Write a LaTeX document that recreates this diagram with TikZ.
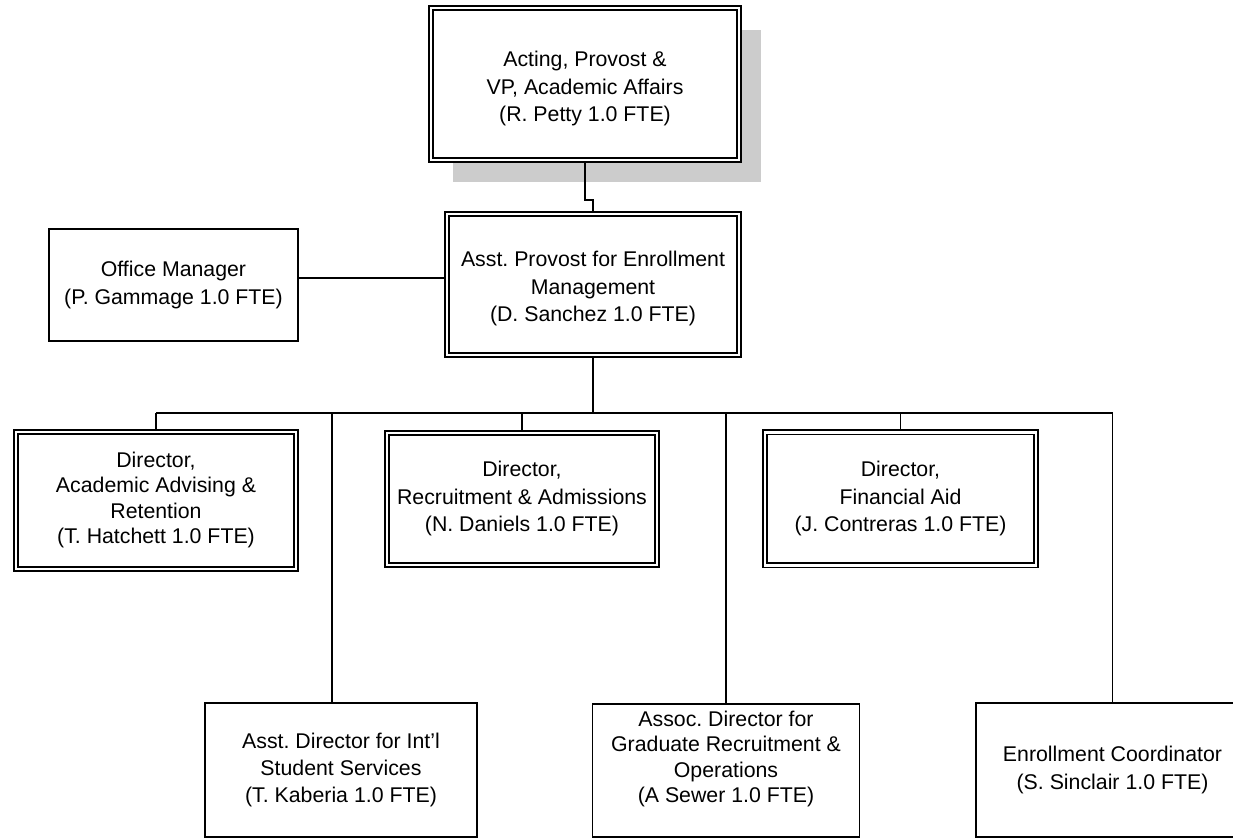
\documentclass[tikz,border=0pt]{standalone}
\usepackage{xcolor}
\usepackage{fontspec}
\setmainfont{Liberation Sans}
\usepackage{tikz}
\usetikzlibrary{shadows}
\definecolor{shadowgray}{RGB}{204, 204, 204}

\tikzset{
    chartbox/.style={draw=black, fill=white, line width=0.65pt, inner sep=0pt,
        font=\fontsize{10.65pt}{13.75pt}\selectfont\frenchspacing},
    dblbox/.style={chartbox, double, double distance=1.2pt, line width=0.9pt, outer sep=1.5pt},
    tightbox/.style={font=\fontsize{10.65pt}{12.75pt}\selectfont\frenchspacing},
    link/.style={draw=black, line width=0.65pt},
}

\begin{document}
\begin{tikzpicture}[x=0.5pt, y=-0.5pt]
    \clip (0,0) rectangle (1233,839);

    % top of the chart
    \node[dblbox, drop shadow={shadow xshift=11pt, shadow yshift=-11.25pt, fill=shadowgray, opacity=1},
        minimum width=154pt, minimum height=76pt] (top) at (585,84) {
        \begin{tabular}{@{}c@{}}
            \rule{0pt}{14.6pt}Acting, Provost \&\\
            VP, Academic Affairs\\
            (R. Petty 1.0 FTE)
        \end{tabular}
    };
    \node[dblbox, minimum width=146pt, minimum height=70.5pt] (mid) at (593,284.5) {
        \begin{tabular}{@{}c@{}}
            \rule{0pt}{14.1pt}Asst. Provost for Enrollment\\
            Management\\
            (D. Sanchez 1.0 FTE)
        \end{tabular}
    };
    \node[chartbox, minimum width=124.5pt, minimum height=56pt] (om) at (173.5,285) {
        \begin{tabular}{@{}c@{}}
            Office Manager\\
            (P. Gammage 1.0 FTE)
        \end{tabular}
    };

    % directors
    \node[dblbox, tightbox, minimum width=140pt, minimum height=68.5pt] (aa) at (156,500.5) {
        \begin{tabular}{@{}c@{}}
            Director,\\
            Academic Advising \&\\
            Retention\\
            (T. Hatchett 1.0 FTE)
        \end{tabular}
    };
    \node[dblbox, minimum width=135pt, minimum height=66pt] (ra) at (522,499) {
        \begin{tabular}{@{}c@{}}
            Director,\\
            Recruitment \& Admissions\\
            (N. Daniels 1.0 FTE)
        \end{tabular}
    };
    \node[dblbox, minimum width=135.5pt, minimum height=66.5pt] (fa) at (900.5,499) {
        \begin{tabular}{@{}c@{}}
            Director,\\
            Financial Aid\\
            (J. Contreras 1.0 FTE)
        \end{tabular}
    };

    % bottom row
    \node[chartbox, minimum width=136pt, minimum height=67pt] (intl) at (341,770) {
        \begin{tabular}{@{}c@{}}
            Asst. Director for Int'l\\
            Student Services\\
            (T. Kaberia 1.0 FTE)
        \end{tabular}
    };
    \node[chartbox, tightbox, minimum width=133.5pt, minimum height=66.5pt] (ad) at (726,770.5) {
        \begin{tabular}{@{}c@{}}
            Assoc. Director for\\
            Graduate Recruitment \&\\
            Operations\\
            (A Sewer 1.0 FTE)\\[11pt]
        \end{tabular}
    };
    \node[chartbox, minimum width=136.5pt, minimum height=67pt] (ec) at (1112.5,770) {
        \begin{tabular}{@{}c@{}}
            Enrollment Coordinator\\
            (S. Sinclair 1.0 FTE)
        \end{tabular}
    };

    % connectors
    \draw[link] (top.south) -- ++(0,37) -| (mid.north);
    \draw[link] ([yshift=3.5pt]om.east) -- ([yshift=3.5pt]om.east -| mid.west);
    \draw[link] (mid.south) -- ++(0,55) coordinate (bus);
    \draw[link] (aa.north |- bus) -- (ec.north |- bus);
    \foreach \n in {aa,ra,fa,ad,ec}
        \draw[link] (\n.north |- bus) -- (\n.north);
    \coordinate (intltop) at ([xshift=-4.5pt]intl.north);
    \draw[link] (intltop |- bus) -- (intltop);
\end{tikzpicture}
\end{document}
